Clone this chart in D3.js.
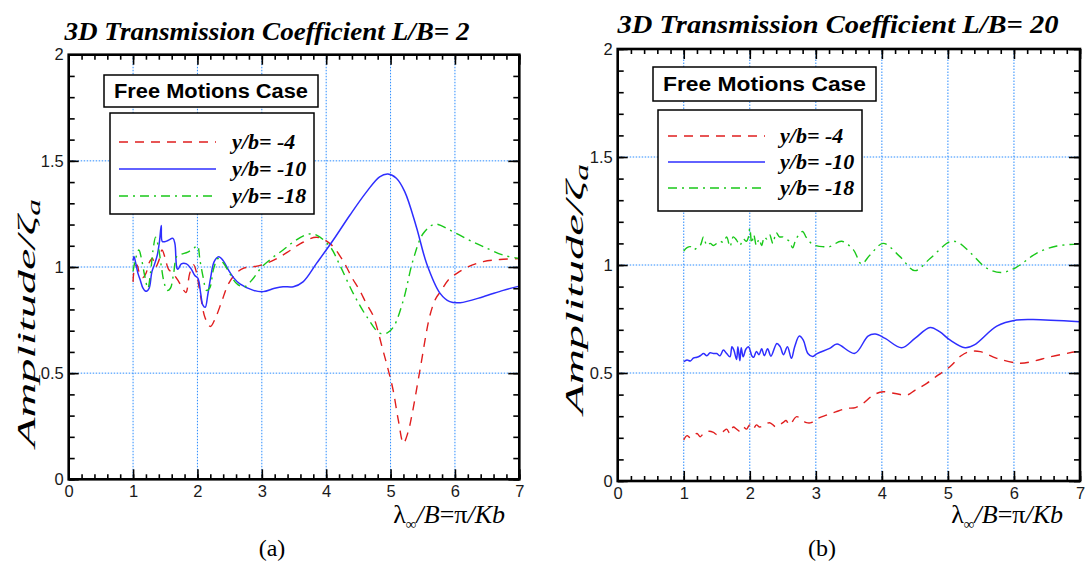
<!DOCTYPE html>
<html><head><meta charset="utf-8">
<script src="https://cdn.jsdelivr.net/npm/d3@7"></script>
<style>body{margin:0;background:#fff}svg{display:block}</style>
</head><body><svg id="c" width="1086" height="563"></svg>
<script>
// ---------- data ----------
const xTicks = [0, 1, 2, 3, 4, 5, 6, 7];
const yTicks = [0, 0.5, 1, 1.5, 2];
const xGrid = [1, 2, 3, 4, 5, 6];
const yGrid = [0.5, 1, 1.5];
const seriesNames = ["y/b= -4", "y/b= -10", "y/b= -18"];
const panelTitles = ["3D Transmission Coefficient L/B= 2", "3D Transmission Coefficient L/B= 20"];
const panelTags = ["(a)", "(b)"];

// Panel (a) L/B = 2
const aRedX = [1.0,1.02,1.06,1.1,1.15,1.2,1.25,1.3,1.35,1.4,1.45,1.5,1.55,1.62,1.69,1.75,1.82,1.88,1.94,1.98,2.05,2.12,2.2,2.28,2.38,2.48,2.6,2.72,2.85,3.0,3.2,3.4,3.6,3.85,4.06,4.26,4.4,4.52,4.62,4.73,4.88,4.96,5.04,5.12,5.2,5.27,5.33,5.46,5.61,5.7,5.79,5.9,6.03,6.2,6.44,6.7,7.0];
const aRedY = [0.93,0.99,1.01,0.97,0.95,0.97,1.02,1.04,1.0,1.03,1.08,1.04,0.99,0.97,0.94,0.91,0.88,0.97,1.01,0.98,0.86,0.76,0.72,0.76,0.84,0.92,0.97,0.995,1.0,1.01,1.035,1.07,1.11,1.14,1.11,1.03,0.95,0.89,0.83,0.77,0.61,0.52,0.42,0.28,0.17,0.22,0.30,0.52,0.77,0.85,0.89,0.94,0.97,1.0,1.025,1.035,1.04];
const aBlueX = [1.0,1.014,1.04,1.076,1.11,1.154,1.19,1.216,1.25,1.293,1.33,1.376,1.41,1.438,1.454,1.5,1.542,1.62,1.65,1.682,1.7,1.749,1.83,1.904,1.96,2.008,2.05,2.085,2.121,2.16,2.205,2.26,2.329,2.4,2.474,2.56,2.66,2.87,3.02,3.2,3.33,3.49,3.64,3.85,4.11,4.37,4.63,4.83,4.96,5.09,5.22,5.4,5.56,5.77,5.92,6.08,6.44,6.75,7.0];
const aBlueY = [1.03,1.05,1.02,0.97,0.94,0.90,0.887,0.887,0.9,0.978,1.01,1.056,1.12,1.195,1.12,1.12,1.125,1.135,1.11,0.994,0.99,1.015,1.015,0.99,0.96,0.947,0.876,0.82,0.81,0.868,0.95,1.025,1.048,1.03,0.99,0.95,0.92,0.89,0.884,0.9,0.907,0.907,0.93,1.017,1.127,1.245,1.355,1.425,1.438,1.418,1.355,1.19,1.017,0.876,0.837,0.832,0.86,0.89,0.91];
const aGreenX = [1.0,1.04,1.09,1.13,1.18,1.23,1.27,1.31,1.35,1.39,1.44,1.48,1.53,1.58,1.63,1.68,1.75,1.85,1.95,2.0,2.04,2.09,2.14,2.19,2.25,2.32,2.4,2.5,2.6,2.72,2.85,3.0,3.15,3.33,3.5,3.72,3.85,4.06,4.21,4.42,4.63,4.83,4.95,5.05,5.2,5.35,5.51,5.69,5.92,6.2,6.44,6.75,7.0];
const aGreenY = [0.98,1.04,1.08,1.04,0.96,0.9,0.97,1.08,1.14,1.1,1.0,0.93,0.89,0.9,0.97,1.05,1.06,1.07,1.09,1.1,1.03,0.95,0.89,0.9,0.99,1.04,1.02,0.97,0.925,0.905,0.94,1.0,1.04,1.08,1.12,1.155,1.15,1.096,1.01,0.876,0.766,0.688,0.69,0.72,0.845,1.033,1.159,1.202,1.174,1.13,1.096,1.056,1.04];

// Panel (b) L/B = 20
const bRedX = [1.0,1.05,1.1,1.15,1.2,1.25,1.3,1.38,1.45,1.5,1.55,1.6,1.65,1.7,1.75,1.8,1.85,1.9,1.95,2.0,2.05,2.1,2.15,2.2,2.3,2.4,2.5,2.55,2.6,2.71,2.8,2.86,2.93,3.0,3.16,3.3,3.47,3.6,3.72,3.87,4.02,4.2,4.38,4.5,4.68,4.85,5.03,5.2,5.33,5.49,5.74,6.09,6.3,6.55,6.95,7.0];
const bRedY = [0.19,0.21,0.2,0.21,0.22,0.205,0.22,0.23,0.225,0.215,0.225,0.23,0.24,0.22,0.25,0.24,0.23,0.25,0.24,0.26,0.24,0.26,0.25,0.255,0.27,0.25,0.27,0.28,0.26,0.298,0.28,0.27,0.27,0.285,0.305,0.32,0.336,0.34,0.36,0.398,0.413,0.405,0.398,0.42,0.452,0.49,0.529,0.58,0.599,0.599,0.568,0.545,0.555,0.575,0.599,0.6];
const bBlueX = [1.0,1.05,1.1,1.15,1.2,1.25,1.3,1.35,1.4,1.45,1.5,1.55,1.6,1.65,1.7,1.73,1.76,1.8,1.82,1.85,1.87,1.9,1.94,1.98,2.01,2.03,2.06,2.1,2.14,2.18,2.22,2.27,2.32,2.41,2.46,2.51,2.57,2.63,2.68,2.75,2.81,2.88,2.95,3.02,3.21,3.32,3.59,3.79,3.9,4.05,4.3,4.5,4.73,4.88,5.03,5.26,5.4,5.74,6.04,6.29,7.0];
const bBlueY = [0.552,0.56,0.556,0.57,0.573,0.58,0.59,0.58,0.594,0.59,0.59,0.58,0.606,0.59,0.575,0.622,0.605,0.563,0.622,0.557,0.617,0.575,0.61,0.622,0.6,0.58,0.573,0.6,0.585,0.612,0.58,0.612,0.578,0.637,0.622,0.585,0.622,0.568,0.622,0.671,0.652,0.59,0.576,0.59,0.614,0.634,0.591,0.671,0.68,0.66,0.617,0.66,0.711,0.69,0.653,0.617,0.63,0.717,0.745,0.748,0.737];
const bGreenX = [1.0,1.05,1.1,1.15,1.2,1.25,1.3,1.35,1.4,1.45,1.5,1.55,1.6,1.65,1.7,1.75,1.8,1.85,1.9,1.95,1.98,2.0,2.03,2.06,2.1,2.14,2.18,2.22,2.26,2.3,2.35,2.4,2.45,2.5,2.55,2.6,2.65,2.7,2.8,2.85,2.9,2.95,3.0,3.1,3.21,3.39,3.57,3.69,3.82,4.02,4.27,4.5,4.73,5.03,5.15,5.33,5.59,5.81,6.04,6.34,6.65,7.0];
const bGreenY = [1.065,1.08,1.085,1.07,1.08,1.09,1.13,1.09,1.1,1.09,1.1,1.11,1.105,1.13,1.085,1.13,1.115,1.09,1.12,1.11,1.13,1.17,1.1,1.14,1.09,1.12,1.09,1.13,1.12,1.14,1.1,1.15,1.13,1.13,1.12,1.11,1.08,1.12,1.155,1.13,1.11,1.095,1.09,1.085,1.085,1.11,1.07,1.005,1.046,1.10,1.04,0.974,1.03,1.108,1.105,1.06,0.985,0.965,0.99,1.054,1.088,1.097];

// ---------- drawing ----------
const SERIF = "'Liberation Serif', 'Times New Roman', Times, serif";
const SANS = "'Liberation Sans', Arial, Helvetica, sans-serif";
const svg = d3.select("#c");
svg.append("rect").attr("width", 1086).attr("height", 563).attr("fill", "#fff");

const styles = [
  {color: "#e01e1e", dash: "9,7", width: 1.4},
  {color: "#2e2eff", dash: null, width: 1.5},
  {color: "#19c819", dash: "9,5,2,5", width: 1.4}
];

const panels = [
  {x0: 68.7, x1: 519.3, y0: 479.3, y1: 54.7,
   series: [[aRedX, aRedY], [aBlueX, aBlueY], [aGreenX, aGreenY]],
   title: panelTitles[0], titleX: 267, titleY: 40, titleW: 405,
   ylabX: 35, ylabY0: 447, ylabW: 248, xlabX: 505, xlabY: 523, tag: panelTags[0], tagX: 272,
   fm: {x: 104, y: 75, w: 214, h: 32},
   lg: {x: 110, y: 113, w: 204, h: 101, rows: [142, 169, 196], lx0: 119, lx1: 216, tx: 232}},
  {x0: 617.7, x1: 1080, y0: 481, y1: 49,
   series: [[bRedX, bRedY], [bBlueX, bBlueY], [bGreenX, bGreenY]],
   title: panelTitles[1], titleX: 838, titleY: 33, titleW: 441,
   ylabX: 583, ylabY0: 414, ylabW: 250, xlabX: 1063, xlabY: 523, tag: panelTags[1], tagX: 822,
   fm: {x: 653, y: 67, w: 223, h: 34},
   lg: {x: 658, y: 110, w: 204, h: 101, rows: [136, 162, 188], lx0: 668, lx1: 765, tx: 780}}
];

panels.forEach(p => {
  const x = d3.scaleLinear().domain([0, 7]).range([p.x0, p.x1]);
  const y = d3.scaleLinear().domain([0, 2]).range([p.y0, p.y1]);
  const g = svg.append("g");

  // grid
  g.append("g").selectAll("line").data(xGrid).join("line")
    .attr("x1", d => x(d)).attr("x2", d => x(d)).attr("y1", y(0)).attr("y2", y(2))
    .attr("stroke", "#2a8cff").attr("stroke-width", 1).attr("stroke-dasharray", "1.5,1.5");
  g.append("g").selectAll("line").data(yGrid).join("line")
    .attr("y1", d => y(d)).attr("y2", d => y(d)).attr("x1", x(0)).attr("x2", x(7))
    .attr("stroke", "#2a8cff").attr("stroke-width", 1).attr("stroke-dasharray", "1.5,1.5");

  // series
  const line = d3.line().curve(d3.curveCatmullRom.alpha(0.5));
  p.series.forEach((s, i) => {
    const pts = s[0].map((xv, k) => [x(xv), y(s[1][k])]);
    g.append("path").attr("d", line(pts)).attr("fill", "none")
      .attr("stroke", styles[i].color).attr("stroke-width", styles[i].width)
      .attr("stroke-dasharray", styles[i].dash);
  });

  // axes with inward ticks
  const minorX = d3.range(0, 71, 2).map(v => v / 10);
  const minorY = d3.range(0, 21, 1).map(v => v / 10);
  const tickStyle = sel => { sel.select(".domain").remove(); sel.selectAll("line").attr("stroke", "#000").attr("stroke-width", 1.6); };
  const labStyle = sel => sel.selectAll("text").attr("font-family", SANS).attr("font-size", 16.5).attr("fill", "#1a1a1a");

  g.append("g").attr("transform", `translate(0,${y(0)})`)
    .call(d3.axisBottom(x).tickValues(minorX).tickSize(-5).tickFormat("")).call(tickStyle);
  g.append("g").attr("transform", `translate(0,${y(0)})`)
    .call(d3.axisBottom(x).tickValues(xTicks).tickSize(-10).tickPadding(6).tickFormat(d3.format("d")))
    .call(tickStyle).call(labStyle);
  g.append("g").attr("transform", `translate(0,${y(2)})`)
    .call(d3.axisTop(x).tickValues(minorX).tickSize(-5).tickFormat("")).call(tickStyle);
  g.append("g").attr("transform", `translate(0,${y(2)})`)
    .call(d3.axisTop(x).tickValues(xTicks).tickSize(-10).tickFormat("")).call(tickStyle);

  g.append("g").attr("transform", `translate(${x(0)},0)`)
    .call(d3.axisLeft(y).tickValues(minorY).tickSize(-6).tickFormat("")).call(tickStyle);
  g.append("g").attr("transform", `translate(${x(0)},0)`)
    .call(d3.axisLeft(y).tickValues(yTicks).tickSize(-10).tickPadding(5).tickFormat(d => d3.format("")(d)))
    .call(tickStyle).call(labStyle);
  g.append("g").attr("transform", `translate(${x(7)},0)`)
    .call(d3.axisRight(y).tickValues(minorY).tickSize(-6).tickFormat("")).call(tickStyle);
  g.append("g").attr("transform", `translate(${x(7)},0)`)
    .call(d3.axisRight(y).tickValues(yTicks).tickSize(-11).tickFormat("")).call(tickStyle);

  // frame
  g.append("rect").attr("x", x(0)).attr("y", y(2)).attr("width", x(7) - x(0)).attr("height", y(0) - y(2))
    .attr("fill", "none").attr("stroke", "#000").attr("stroke-width", 2.6);

  // title
  svg.append("text").attr("x", p.titleX - p.titleW / 2).attr("y", p.titleY)
    .attr("textLength", p.titleW).attr("lengthAdjust", "spacingAndGlyphs")
    .attr("font-family", SERIF).attr("font-style", "italic")
    .attr("font-weight", "bold").attr("font-size", 25).text(p.title);

  // y label
  const yl = svg.append("text").attr("transform", `translate(${p.ylabX},${p.ylabY0}) rotate(-90)`)
    .attr("textLength", p.ylabW).attr("lengthAdjust", "spacingAndGlyphs")
    .attr("font-family", SERIF).attr("font-style", "italic").attr("font-size", 26);
  yl.append("tspan").text("Amplitude/ζ");
  yl.append("tspan").attr("font-size", 18).attr("dy", 5).text("a");

  // x label
  const xl = svg.append("text").attr("x", p.xlabX).attr("y", p.xlabY).attr("text-anchor", "end")
    .attr("font-family", SERIF).attr("font-size", 26);
  xl.append("tspan").text("λ");
  xl.append("tspan").attr("font-size", 15).attr("dy", 6).text("∞");
  xl.append("tspan").attr("dy", -6).attr("font-style", "italic").text("/B");
  xl.append("tspan").text("=π");
  xl.append("tspan").attr("font-style", "italic").text("/Kb");

  // tag
  svg.append("text").attr("x", p.tagX).attr("y", 556).attr("text-anchor", "middle")
    .attr("font-family", SERIF).attr("font-size", 24).text(p.tag);

  // "Free Motions Case" box
  svg.append("rect").attr("x", p.fm.x).attr("y", p.fm.y).attr("width", p.fm.w).attr("height", p.fm.h)
    .attr("fill", "#fff").attr("stroke", "#000").attr("stroke-width", 1.5);
  svg.append("text").attr("x", p.fm.x + 10).attr("y", p.fm.y + p.fm.h / 2 + 7)
    .attr("textLength", p.fm.w - 20).attr("lengthAdjust", "spacingAndGlyphs")
    .attr("font-family", SANS).attr("font-weight", "bold").attr("font-size", 20).text("Free Motions Case");

  // legend
  svg.append("rect").attr("x", p.lg.x).attr("y", p.lg.y).attr("width", p.lg.w).attr("height", p.lg.h)
    .attr("fill", "#fff").attr("stroke", "#000").attr("stroke-width", 1.5);
  seriesNames.forEach((nm, i) => {
    svg.append("line").attr("x1", p.lg.lx0).attr("x2", p.lg.lx1).attr("y1", p.lg.rows[i]).attr("y2", p.lg.rows[i])
      .attr("stroke", styles[i].color).attr("stroke-width", styles[i].width).attr("stroke-dasharray", styles[i].dash);
    svg.append("text").attr("x", p.lg.tx).attr("y", p.lg.rows[i] + 7)
      .attr("font-family", SERIF).attr("font-style", "italic")
      .attr("font-weight", "bold").attr("font-size", 22).text(nm);
  });
});
</script></body></html>
